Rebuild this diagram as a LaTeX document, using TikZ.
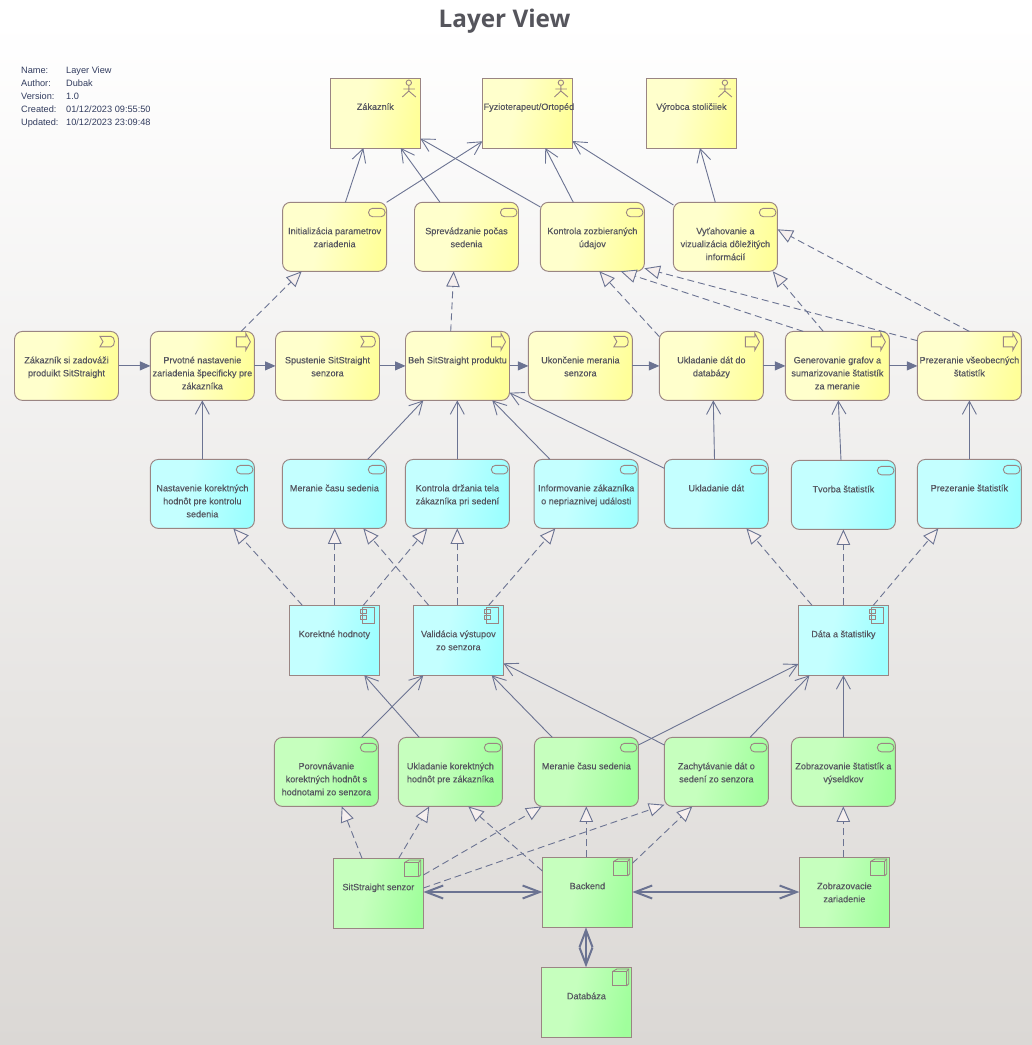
\documentclass[tikz,border=0pt]{standalone}
\usepackage{fontspec}
\setmainfont{Liberation Sans}
\newfontfamily\lblfont{Liberation Sans}[FakeBold=0.3]
\newfontfamily\titlefont{Open Sans}
\usetikzlibrary{arrows.meta}
\definecolor{edgec}{HTML}{9A8583}
\definecolor{linec}{HTML}{6B7392}
\definecolor{txtc}{HTML}{55555F}
\definecolor{trifill}{HTML}{F6EFEE}
\definecolor{yl}{HTML}{FFFFCC}\definecolor{yr}{HTML}{FFFF99}
\definecolor{cl}{HTML}{C4FFFF}\definecolor{cr}{HTML}{9CFFFF}
\definecolor{gl}{HTML}{C6FFBE}\definecolor{gr}{HTML}{A0FF9C}
\pgfdeclarehorizontalshading{yelsh}{100bp}{color(0bp)=(yl);color(42bp)=(yl);color(75bp)=(yr);color(100bp)=(yr)}
\pgfdeclarehorizontalshading{cyansh}{100bp}{color(0bp)=(cl);color(42bp)=(cl);color(75bp)=(cr);color(100bp)=(cr)}
\pgfdeclarehorizontalshading{greensh}{100bp}{color(0bp)=(gl);color(42bp)=(gl);color(75bp)=(gr);color(100bp)=(gr)}
\newcommand\tl[1]{\makebox[60pt][c]{\begin{tabular}[t]{@{}c@{}}#1\end{tabular}}}
\tikzset{
 base/.style={inner sep=0pt,outer sep=0pt,draw=edgec,line width=.95pt,anchor=north west,text=txtc,
   font=\lblfont\fontsize{9.1}{13}\selectfont,shade,shading angle=-12,text height=31.9pt},
 sq/.style={base,minimum width=90pt,minimum height=70pt,text depth=38.1pt},
 rd/.style={base,minimum width=104pt,minimum height=69pt,text depth=37.1pt,rounded corners=8pt},
 yel/.style={shading=yelsh},
 cya/.style={shading=cyansh},
 gre/.style={shading=greensh},
 assoc/.style={draw=linec,line width=.9pt,-{Straight Barb[length=13pt,width=14pt]}},
 real/.style={draw=linec,line width=.9pt,dash pattern=on 7pt off 4pt,-{Triangle[length=15.5pt,width=13.5pt,fill=trifill,line width=.9pt,sep=0pt]}},
 trig/.style={draw=linec,line width=.9pt,-{Triangle[length=10.5pt,width=9pt,fill=linec]}},
 flow/.style={draw=linec,line width=2pt,{Straight Barb[length=17pt,width=13pt]}-{Straight Barb[length=17pt,width=13pt]}},
 ico/.style={draw=edgec,line width=.9pt},
}
\newcommand\svc[1]{\draw[ico,rounded corners=4pt,shift={(#1.north east)}] (-18,6) rectangle (-1.5,14.4);}
\newcommand\evt[1]{\draw[ico,shift={(#1.north east)}] (-18.5,5) -- (-7.5,5) .. controls (-3,5) and (-3,15.4) .. (-7.5,15.4) -- (-18.5,15.4) -- (-15.5,10.2) -- cycle;}
\newcommand\prc[1]{\draw[ico,shift={(#1.north east)}] (-18,5.4) -- (-8.5,5.4) -- (-8.5,2) -- (-4,10.5) -- (-8.5,18.7) -- (-8.5,15.4) -- (-18,15.4) -- cycle;}
\newcommand\act[1]{\begin{scope}[shift={(#1.north east)}]
 \draw[ico] (-11.5,4.7) circle (2.7);
 \draw[ico] (-11.5,7.4) -- (-11.5,13) (-17,11) -- (-5.5,11) (-18,19) -- (-11.5,13) -- (-4.5,19);
 \end{scope}}
\newcommand\cmp[1]{\begin{scope}[shift={(#1.north east)}]
 \draw[ico] (-16.6,1.7) rectangle (-4.6,18.4);
 \draw[ico] (-19,4) rectangle (-12.6,8);
 \draw[ico] (-19,10) rectangle (-12.6,14);
 \end{scope}}
\newcommand\nde[1]{\begin{scope}[shift={(#1.north east)}]
 \draw[ico] (-19,4.3) rectangle (-5,18.6);
 \draw[ico] (-19,4.3) -- (-14.5,1.7) -- (-2.7,1.7) -- (-2.7,16.5) -- (-5,18.6);
 \draw[ico] (-5,4.3) -- (-2.7,1.7);
 \end{scope}}
\begin{document}
\begin{tikzpicture}[x=1pt,y=-1pt]
\useasboundingbox (0,0) rectangle (1032,1045);
\shade[top color=white,bottom color={rgb,255:red,219;green,216;blue,213}] (0,20) rectangle (1032,1045);
\fill[white] (0,0) rectangle (1032,20.5);
\node[text={rgb,255:red,85;green,85;blue,92},font=\titlefont\bfseries\fontsize{24.3}{28}\selectfont] (title) at (504.5,21) {Layer View};
\node[anchor=north west,inner sep=0pt,text={rgb,255:red,50;green,60;blue,95},font=\fontsize{9.2}{13}\selectfont] (info) at (21,63.7) {%
 \begin{tabular}{@{}p{45pt}@{}l@{}}Name:&Layer View\\Author:&Dubak\\Version:&1.0\\Created:&01/12/2023 09:55:50\\Updated:&10/12/2023 23:09:48\end{tabular}};
% actors
\node[sq,yel] (zak) at (330.3,78) {\tl{Zákazník}};
\node[sq,yel] (fyz) at (482.4,78) {\tl{\hspace{3pt}Fyzioterapeut/Ortopéd}};
\node[sq,yel] (vyr) at (646.4,78) {\tl{Výrobca stoličiiek}};
\act{zak}\act{fyz}\act{vyr}
% row 2
\node[rd,yel] (ini) at (282.6,202.3) {\tl{Initializácia parametrov\\zariadenia}};
\node[rd,yel] (spr) at (414.5,202.3) {\tl{Sprevádzanie počas\\sedenia}};
\node[rd,yel] (kon) at (540.4,202.3) {\tl{Kontrola zozbieraných\\údajov}};
\node[rd,yel] (vyt) at (673.4,202.3) {\tl{Vyťahovanie a\\vizualizácia dôležitých\\informácií}};
\svc{ini}\svc{spr}\svc{kon}\svc{vyt}
% row 3
\node[rd,yel] (zad) at (14.5,331.4) {\tl{Zákazník si zadováži\\produikt SitStraight}};
\node[rd,yel] (prv) at (150.4,331.4) {\tl{Prvotné nastavenie\\zariadenia špecificky pre\\zákazníka}};
\node[rd,yel] (spu) at (275.5,331.4) {\tl{Spustenie SitStraight\\senzora}};
\node[rd,yel] (beh) at (405.5,331.4) {\tl{Beh SitStraight produktu}};
\node[rd,yel] (uko) at (528.4,331.4) {\tl{Ukončenie merania\\senzora}};
\node[rd,yel] (ula) at (659.4,331.4) {\tl{Ukladanie dát do\\databázy}};
\node[rd,yel] (gen) at (785.4,331.4) {\tl{Generovanie grafov a\\sumarizovanie štatistík\\za meranie}};
\node[rd,yel] (pre) at (917.4,331.4) {\tl{Prezeranie všeobecných\\štatistík}};
\evt{zad}\prc{prv}\evt{spu}\prc{beh}\evt{uko}\prc{ula}\prc{gen}\prc{pre}
% row 4
\node[rd,cya] (nas) at (150.4,459.4) {\tl{Nastavenie korektných\\hodnôt pre kontrolu\\sedenia}};
\node[rd,cya] (mer) at (282.4,459.4) {\tl{Meranie času sedenia}};
\node[rd,cya] (kdr) at (405.4,459.4) {\tl{Kontrola držania tela\\zákazníka pri sedení}};
\node[rd,cya] (inf) at (534.2,459.4) {\tl{Informovanie zákazníka\\o nepriaznivej události}};
\node[rd,cya] (ukd) at (664.3,459.4) {\tl{Ukladanie dát}};
\node[rd,cya] (tvo) at (791.4,460.4) {\tl{Tvorba štatistík}};
\node[rd,cya] (pst) at (917.4,459.4) {\tl{Prezeranie štatistík}};
\svc{nas}\svc{mer}\svc{kdr}\svc{inf}\svc{ukd}\svc{tvo}\svc{pst}
% components
\node[sq,cya] (kor) at (289.4,605.3) {\tl{Korektné hodnoty}};
\node[sq,cya] (val) at (413.4,605.3) {\tl{Validácia výstupov\\zo senzora}};
\node[sq,cya] (dat) at (798.4,605.3) {\tl{Dáta a štatistiky}};
\cmp{kor}\cmp{val}\cmp{dat}
% row 5
\node[rd,gre] (por) at (274.4,737.4) {\tl{Porovnávanie\\korektných hodnôt s\\hodnotami zo senzora}};
\node[rd,gre] (ukk) at (398.4,737.4) {\tl{Ukladanie korektných\\hodnôt pre zákazníka}};
\node[rd,gre] (mcs) at (534.4,737.4) {\tl{Meranie času sedenia}};
\node[rd,gre] (zac) at (664.4,737.4) {\tl{Zachytávanie dát o\\sedení zo senzora}};
\node[rd,gre] (zob) at (791.4,737.4) {\tl{Zobrazovanie štatistík a\\výseldkov}};
\svc{por}\svc{ukk}\svc{mcs}\svc{zac}\svc{zob}
% nodes
\node[sq,gre] (sit) at (333.4,858.3) {\tl{SitStraight senzor}};
\node[sq,gre] (bac) at (542.4,857.3) {\tl{Backend}};
\node[sq,gre] (zza) at (799.4,857.3) {\tl{Zobrazovacie\\zariadenie}};
\node[sq,gre] (dbz) at (541.4,967.3) {\tl{Databáza}};
\nde{sit}\nde{bac}\nde{zza}\nde{dbz}
% associations top
\draw[assoc] (345.4,0 |- ini.north) -- (363.3,0 |- zak.south);
\draw[assoc] (386.6,0 |- ini.north) -- (fyz.west |- 0,141.3);
\draw[assoc] (440,0 |- spr.north) -- (400.7,0 |- zak.south);
\draw[assoc] (kon.west |- 0,207) -- (zak.east |- 0,138.5);
\draw[assoc] (573.3,0 |- kon.north) -- (545.3,0 |- fyz.south);
\draw[assoc] (vyt.west |- 0,205) -- (fyz.east |- 0,141);
\draw[assoc] (715.3,0 |- vyt.north) -- (700,0 |- vyr.south);
% realisations to row 2
\draw[real] (241,0 |- prv.north) -- (301.7,0 |- ini.south);
\draw[real] (450.7,0 |- beh.north) -- (453.7,0 |- spr.south);
\draw[real] (ula.west |- 0,336.7) -- (599.3,0 |- kon.south);
\draw[real] (803.3,0 |- gen.north) -- (620.7,0 |- kon.south);
\draw[real] (pre.west |- 0,340.7) -- (kon.east |- 0,268.3);
\draw[real] (823.3,0 |- gen.north) -- (772.7,0 |- vyt.south);
\draw[real] (969.3,0 |- pre.north) -- (vyt.east |- 0,229.3);
% triggering
\draw[trig] (zad.east) -- (prv.west);
\draw[trig] (prv.east) -- (spu.west);
\draw[trig] (spu.east) -- (beh.west);
\draw[trig] (beh.east) -- (uko.west);
\draw[trig] (uko.east) -- (ula.west);
\draw[trig] (ula.east) -- (gen.west);
\draw[trig] (gen.east) -- (pre.west);
% row 4 to row 3
\draw[assoc] (202.3,0 |- nas.north) -- (202.3,0 |- prv.south);
\draw[assoc] (367.7,0 |- mer.north) -- (423.3,0 |- beh.south);
\draw[assoc] (457.3,0 |- kdr.north) -- (457.3,0 |- beh.south);
\draw[assoc] (550,0 |- inf.north) -- (492.3,0 |- beh.south);
\draw[assoc] (ukd.west |- 0,468.3) -- (beh.east |- 0,392.7);
\draw[assoc] (714.5,0 |- ukd.north) -- (713.3,0 |- ula.south);
\draw[assoc] (841,0 |- tvo.north) -- (838.3,0 |- gen.south);
\draw[assoc] (969.4,0 |- pst.north) -- (969.4,0 |- pre.south);
% components to row 4
\draw[real] (302.3,0 |- kor.north) -- (233.3,0 |- nas.south);
\draw[real] (334.7,0 |- kor.north) -- (334.7,0 |- mer.south);
\draw[real] (363.3,0 |- kor.north) -- (427.3,0 |- kdr.south);
\draw[real] (428.7,0 |- val.north) -- (363.3,0 |- mer.south);
\draw[real] (457.3,0 |- val.north) -- (457.3,0 |- kdr.south);
\draw[real] (488.7,0 |- val.north) -- (555.3,0 |- inf.south);
\draw[real] (812,0 |- dat.north) -- (746.4,0 |- ukd.south);
\draw[real] (843.4,0 |- dat.north) -- (843.4,0 |- tvo.south);
\draw[real] (873.3,0 |- dat.north) -- (938.4,0 |- pst.south);
% row 5 to components
\draw[assoc] (361.7,0 |- por.north) -- (423.3,0 |- val.south);
\draw[assoc] (419.3,0 |- ukk.north) -- (364.3,0 |- kor.south);
\draw[assoc] (552.3,0 |- mcs.north) -- (491.7,0 |- val.south);
\draw[assoc] (zac.west |- 0,745) -- (val.east |- 0,663.3);
\draw[assoc] (mcs.east |- 0,745) -- (dat.west |- 0,664);
\draw[assoc] (750,0 |- zac.north) -- (809.5,0 |- dat.south);
\draw[assoc] (843.4,0 |- zob.north) -- (843.4,0 |- dat.south);
% nodes to row 5
\draw[real] (362,0 |- sit.north) -- (341.7,0 |- por.south);
\draw[real] (398.7,0 |- sit.north) -- (429.3,0 |- ukk.south);
\draw[real] (sit.east |- 0,875) -- (541.7,0 |- mcs.south);
\draw[real] (sit.east |- 0,888) -- (zac.west |- 0,804.7);
\draw[real] (bac.west |- 0,871) -- (468.3,0 |- ukk.south);
\draw[real] (586.3,0 |- bac.north) -- (586.3,0 |- mcs.south);
\draw[real] (bac.east |- 0,863.3) -- (692.3,0 |- zac.south);
\draw[real] (843.3,0 |- zza.north) -- (843.3,0 |- zob.south);
% thick flows
\draw[flow] (sit.east |- 0,892) -- (bac.west |- 0,892);
\draw[flow] (bac.east |- 0,892) -- (zza.west |- 0,892);
\draw[flow] (586,0 |- bac.south) -- (586,0 |- dbz.north);
\end{tikzpicture}
\end{document}
